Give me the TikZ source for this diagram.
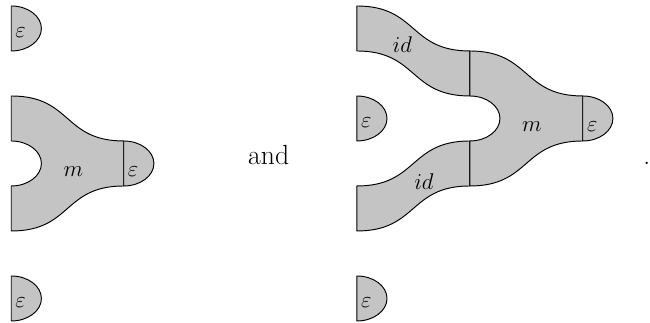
\documentclass[tikz,border=0pt]{standalone}
\usetikzlibrary{positioning}
\definecolor{surface}{gray}{0.77}

\begin{document}
\begin{tikzpicture}[
  font=\fontsize{14.4}{17}\selectfont,
  piece/.style={draw, fill=surface, line width=0.6pt, line join=round},
  lbl/.style={anchor=base, inner sep=0pt},
  word/.style={anchor=base, inner sep=0pt, font=\fontsize{17.5}{20}\selectfont},
]
\useasboundingbox (0,-0.044) rectangle (14.444,7.133);

% left picture: m with a counit on the output, counits on the side legs
\draw[piece] (0.25,7) arc[start angle=90, end angle=-90, x radius=0.67, y radius=0.5] -- cycle;
\draw[piece] (0.25,5) -- (0.25,4)
  arc[start angle=90, end angle=-90, x radius=0.67, y radius=0.5]
  -- (0.25,2) .. controls +(1.35,0) and +(-1.35,0) .. (2.75,3)
  -- (2.75,4) .. controls +(-1.35,0) and +(1.35,0) .. (0.25,5) -- cycle;
\draw[piece] (2.75,4) arc[start angle=90, end angle=-90, x radius=0.67, y radius=0.5] -- cycle;
\draw[piece] (0.25,1) arc[start angle=90, end angle=-90, x radius=0.67, y radius=0.5] -- cycle;

\node[lbl] (epsA) at (0.46,6.29) {$\varepsilon$};
\node[lbl] (mA) at (1.63,3.2) {$m$};
\node[lbl] (epsB) at (2.96,3.2) {$\varepsilon$};
\node[lbl] (epsC) at (0.46,0.29) {$\varepsilon$};

\node[word] (and) at (5.97,3.47) {and};

% right picture: identities feeding m, counit in the middle leg
\draw[piece] (7.93,7) -- (7.93,6) .. controls +(1.35,0) and +(-1.35,0) .. (10.44,5)
  -- (10.44,6) .. controls +(-1.35,0) and +(1.35,0) .. (7.93,7) -- cycle;
\draw[piece] (7.93,5) arc[start angle=90, end angle=-90, x radius=0.67, y radius=0.5] -- cycle;
\draw[piece] (7.93,3) -- (7.93,2) .. controls +(1.35,0) and +(-1.35,0) .. (10.44,3)
  -- (10.44,4) .. controls +(-1.35,0) and +(1.35,0) .. (7.93,3) -- cycle;
\draw[piece] (10.44,6) -- (10.44,5)
  arc[start angle=90, end angle=-90, x radius=0.67, y radius=0.5]
  -- (10.44,3) .. controls +(1.35,0) and +(-1.35,0) .. (12.95,4)
  -- (12.95,5) .. controls +(-1.35,0) and +(1.35,0) .. (10.44,6) -- cycle;
\draw[piece] (12.95,5) arc[start angle=90, end angle=-90, x radius=0.67, y radius=0.5] -- cycle;
\draw[piece] (7.93,1) arc[start angle=90, end angle=-90, x radius=0.67, y radius=0.5] -- cycle;

\node[lbl] (idA) at (8.94,5.96) {$id$};
\node[lbl] (epsD) at (8.14,4.29) {$\varepsilon$};
\node[lbl] (idB) at (9.42,2.93) {$id$};
\node[lbl] (mB) at (11.82,4.2) {$m$};
\node[lbl] (epsE) at (13.16,4.2) {$\varepsilon$};
\node[lbl] (epsF) at (8.14,0.29) {$\varepsilon$};

\node[word, anchor=base west] (stop) at (14.29,3.47) {.};
\end{tikzpicture}
\end{document}
